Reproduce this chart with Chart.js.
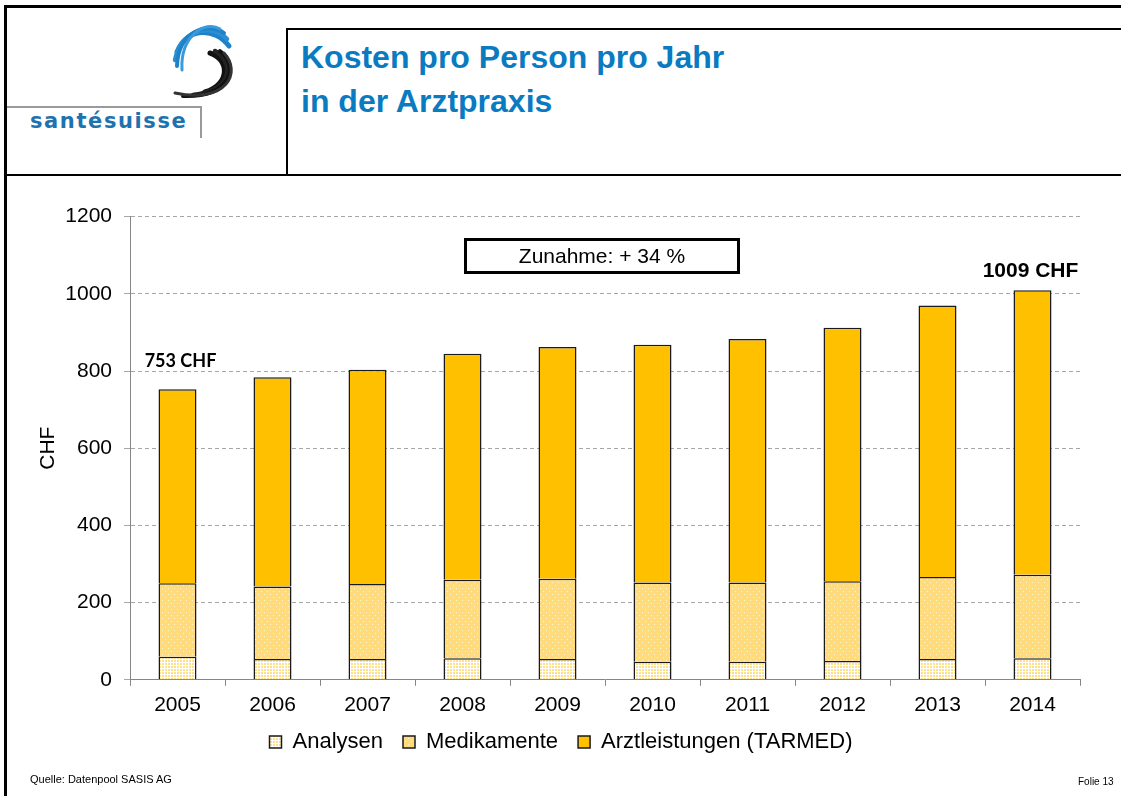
<!DOCTYPE html>
<html>
<head>
<meta charset="utf-8">
<script src="https://cdn.jsdelivr.net/npm/chart.js@4/dist/chart.umd.min.js"></script>
<style>
  html,body{margin:0;padding:0;background:#fff;}
  #page{position:relative;width:1121px;height:796px;overflow:hidden;font-family:"Liberation Sans",Arial,sans-serif;}
  .ln{position:absolute;background:#000;}
  #title{position:absolute;left:301px;top:35px;color:#0A7BC1;font-weight:bold;font-size:32px;line-height:44px;font-family:"Liberation Sans",Arial,sans-serif;white-space:nowrap;}
  #brand{position:absolute;left:30px;top:109px;color:#1E72AE;font-weight:bold;font-size:21px;letter-spacing:1.6px;font-family:"DejaVu Sans","Liberation Sans",sans-serif;}
  #box{position:absolute;left:464px;top:238px;width:270px;height:30px;border:3px solid #000;text-align:center;font-size:21px;line-height:30px;color:#000;}
  #src{position:absolute;left:30px;top:773px;font-size:11px;color:#000;white-space:nowrap;}
  #folie{position:absolute;left:1078px;top:776px;font-size:10px;color:#000;white-space:nowrap;}
  #wrap{position:absolute;left:0;top:192px;width:1121px;height:588px;}
</style>
</head>
<body>
<div id="page">
  <div class="ln" style="left:4px;top:5px;width:3px;height:791px;"></div>
  <div class="ln" style="left:4px;top:5px;width:1117px;height:3px;"></div>
  <div class="ln" style="left:7px;top:174px;width:1114px;height:2px;"></div>
  <div class="ln" style="left:286px;top:28px;width:1.5px;height:147px;"></div>
  <div class="ln" style="left:286px;top:28px;width:835px;height:1.5px;"></div>
  <div class="ln" style="left:7px;top:106px;width:194px;height:2px;background:#9a9a9a;"></div>
  <div class="ln" style="left:200px;top:106px;width:2px;height:32px;background:#9a9a9a;"></div>
  <svg style="position:absolute;left:165px;top:22px;" width="75" height="80" viewBox="0 0 75 80">
    <g fill="none" stroke-linecap="round">
      <path d="M64 24 C50 5, 22 5, 12 30" stroke="#1E82C8" stroke-width="5"/>
      <path d="M62 17 C47 1, 17 6, 10 38" stroke="#2A8FD2" stroke-width="4.5"/>
      <path d="M59 11 C43 -1, 13 9, 12 44" stroke="#1E82C8" stroke-width="4"/>
      <path d="M55 7 C40 -2, 15 14, 17 48" stroke="#3A9BDA" stroke-width="3"/>
      <path d="M45 31 C64 37, 66 62, 40 70" stroke="#111" stroke-width="5"/>
      <path d="M50 29 C70 40, 68 69, 28 73" stroke="#222" stroke-width="4.5"/>
      <path d="M55 29 C75 44, 66 76, 18 74" stroke="#111" stroke-width="4"/>
      <path d="M59 31 C77 50, 62 82, 10 71" stroke="#333" stroke-width="3"/>
    </g>
  </svg>
  <div id="brand">santésuisse</div>
  <div id="title">Kosten pro Person pro Jahr<br>in der Arztpraxis</div>
  <div id="wrap"><canvas id="c"></canvas></div>
  <div id="box">Zunahme: + 34 %</div>
  <div id="src">Quelle: Datenpool SASIS AG</div>
  <div id="folie">Folie 13</div>
</div>
<script>
const years = ["2005","2006","2007","2008","2009","2010","2011","2012","2013","2014"];
const analysen = [60, 54, 54, 56, 54, 47, 47, 49, 54, 56];
const medikamente = [190, 188, 194, 203, 208, 205, 205, 206, 212, 216];
const arztleistungen = [503, 542, 555, 586, 600, 616, 631, 657, 704, 737];
const yTicks = [0, 200, 400, 600, 800, 1000, 1200];
const totalLabels = [{index: 0, text: "753 CHF", font: "bold 18px Lato, 'Open Sans', sans-serif", gap: 22, dx: 3},
                     {index: 9, text: "1009 CHF", font: "bold 21px 'Liberation Sans', Arial, sans-serif", gap: 13, dx: -2}];

function makePattern(bg, dot, step, size) {
  const p = document.createElement('canvas');
  p.width = step; p.height = step;
  const g = p.getContext('2d');
  g.fillStyle = bg; g.fillRect(0, 0, step, step);
  g.fillStyle = dot; g.fillRect(0, 0, size, size);
  return g.createPattern(p, 'repeat');
}
const ctx0 = document.getElementById('c').getContext('2d');
const patAnalysen = makePattern('#FFFFFF', '#FFE08A', 3, 2);
const patMedi = (function(){
  const p = document.createElement('canvas'); p.width = 6; p.height = 6;
  const g = p.getContext('2d');
  g.fillStyle = '#FFDB7C'; g.fillRect(0,0,6,6);
  g.fillStyle = '#FFF3D0'; g.fillRect(0,0,1,1); g.fillRect(3,3,1,1);
  return g.createPattern(p, 'repeat');
})();

const annot = {
  id: 'annot',
  afterLayout(chart) {
    if (chart.legend) { chart.legend.left += 21; chart.legend.right += 21; }
  },
  afterDatasetsDraw(chart) {
    const c = chart.ctx;
    const xs = chart.scales.x, ys = chart.scales.y;
    c.save();
    c.fillStyle = '#000';
    c.textAlign = 'center';
    c.textBaseline = 'alphabetic';
    totalLabels.forEach(t => {
      const i = t.index;
      const tot = analysen[i] + medikamente[i] + arztleistungen[i];
      c.font = t.font;
      c.fillText(t.text, xs.getPixelForValue(i) + t.dx, ys.getPixelForValue(tot) - t.gap);
    });
    c.restore();
  }
};

const FONT = "'Liberation Sans', Arial, sans-serif";
new Chart(ctx0, {
  type: 'bar',
  data: {
    labels: years,
    datasets: [
      {label: 'Analysen', data: analysen, backgroundColor: patAnalysen, borderColor: '#1a1a1a', borderWidth: 1.5},
      {label: 'Medikamente', data: medikamente, backgroundColor: patMedi, borderColor: '#1a1a1a', borderWidth: 1.5},
      {label: 'Arztleistungen (TARMED)', data: arztleistungen, backgroundColor: '#FFC000', borderColor: '#1a1a1a', borderWidth: 1.5}
    ]
  },
  options: {
    responsive: true,
    maintainAspectRatio: false,
    animation: false,
    layout: {padding: {left: 0, right: 41, top: 2, bottom: 17}},
    datasets: {bar: {barPercentage: 0.4, categoryPercentage: 1.0}},
    scales: {
      x: {
        stacked: true,
        afterFit(axis) { axis.height -= 14; },
        grid: {display: true, drawOnChartArea: false, drawTicks: true, tickLength: 6, color: '#868686', offset: true},
        border: {display: true, color: '#868686', width: 1},
        ticks: {color: '#000', font: {family: FONT, size: 21}, padding: 7}
      },
      y: {
        stacked: true,
        min: 0, max: 1200,
        afterBuildTicks(axis) { axis.ticks = yTicks.map(v => ({value: v})); },
        afterFit(axis) { axis.width = 130; },
        grid: {color: '#A6A6A6', lineWidth: 1, tickLength: 6, drawTicks: true},
        border: {display: true, color: '#868686', width: 1, dash: [4, 3]},
        ticks: {color: '#000', font: {family: FONT, size: 21}, padding: 12, callback: v => String(v)},
        title: {display: true, text: 'CHF', color: '#000', font: {family: FONT, size: 21}, padding: {top: 36, bottom: 0}}
      }
    },
    plugins: {
      legend: {
        position: 'bottom',
        labels: {
          color: '#000',
          font: {family: FONT, size: 22},
          boxWidth: 12, boxHeight: 12, padding: 20
        }
      },
      tooltip: {enabled: false}
    }
  },
  plugins: [annot]
});
</script>
</body>
</html>
